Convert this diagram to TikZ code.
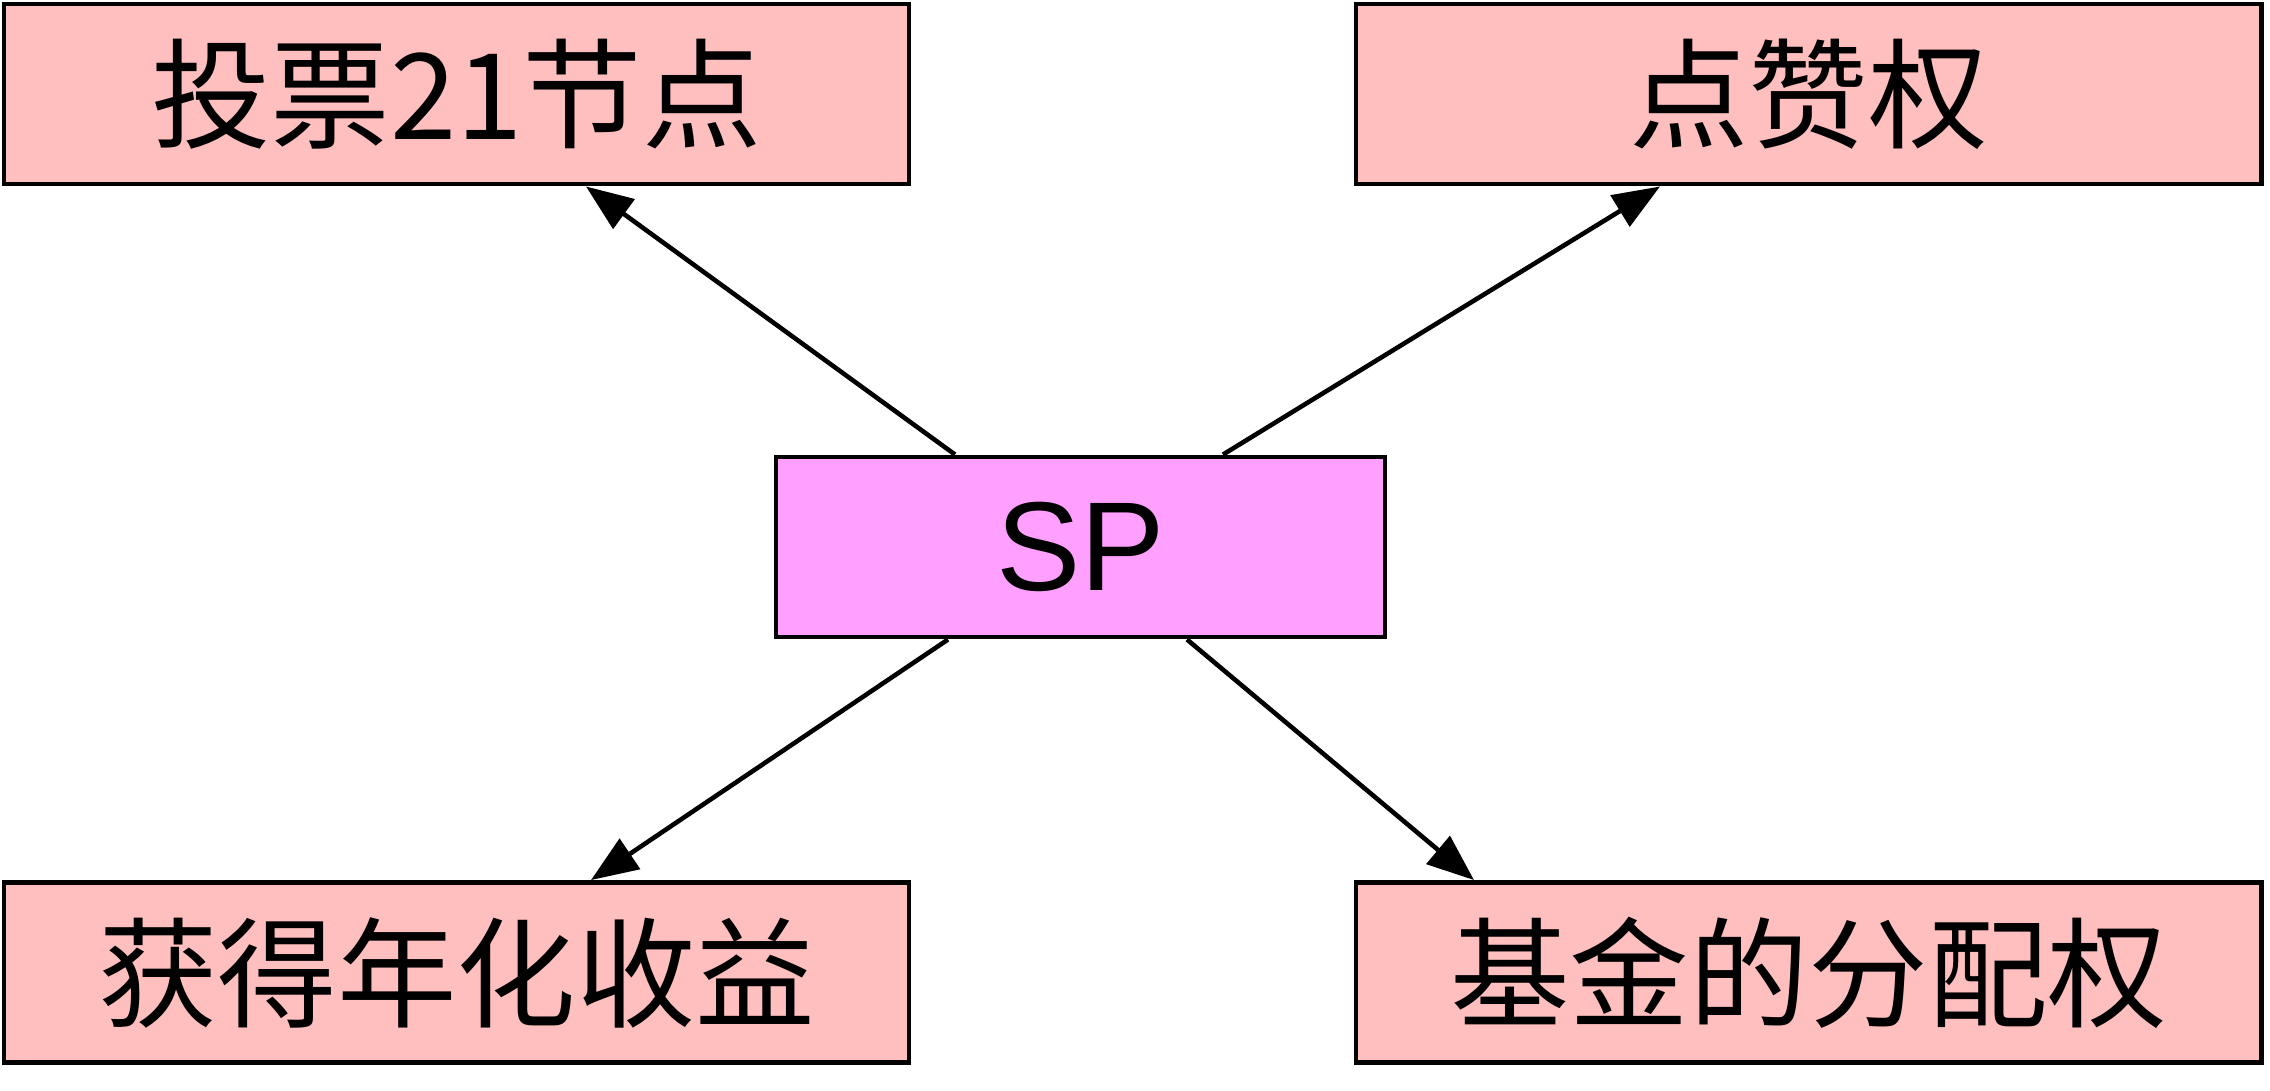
\documentclass[tikz,border=0pt]{standalone}
\usepackage{fontspec}
\setmainfont{Noto Sans CJK SC}
\newfontfamily\latinfont{Liberation Sans}
\usetikzlibrary{arrows.meta, positioning}
\definecolor{boxpink}{RGB}{255,191,191}
\definecolor{spviolet}{RGB}{255,160,255}
\tikzset{
    every node/.style={inner sep=2pt},
    rightbox/.style={draw, line width=1.4pt, fill=boxpink, minimum width=9.05cm,
        minimum height=1.8cm, font=\fontsize{34}{40}\selectfont},
    spbox/.style={draw, line width=1.4pt, fill=spviolet, minimum width=6.09cm,
        minimum height=1.8cm, font=\latinfont\fontsize{36}{40}\selectfont},
    arr/.style={line width=1.3pt, -{Triangle[length=4.7mm, width=3.6mm]}}
}
\begin{document}
\begin{tikzpicture}
                \useasboundingbox (0,0) rectangle (22.7,-10.9);
                \node[spbox] (sp) at (10.805,-5.47) {SP};
                \node[rightbox] (vote) at (4.565,-0.94) {投票21节点};
                \node[rightbox] (like) at (18.085,-0.94) {点赞权};
                \node[rightbox] (yield) at (4.565,-9.725) {获得年化收益};
                \node[rightbox] (fund) at (18.085,-9.725) {基金的分配权};

                \draw[arr] ([xshift=-1.255cm]sp.north) -- ([xshift=1.295cm]vote.south);
                \draw[arr] ([xshift=1.425cm]sp.north) -- ([xshift=-1.485cm]like.south);
                \draw[arr] ([xshift=-1.325cm]sp.south) -- ([xshift=1.345cm]yield.north);
                \draw[arr] ([xshift=1.065cm]sp.south) -- ([xshift=-3.345cm]fund.north);
            \end{tikzpicture}
\end{document}
